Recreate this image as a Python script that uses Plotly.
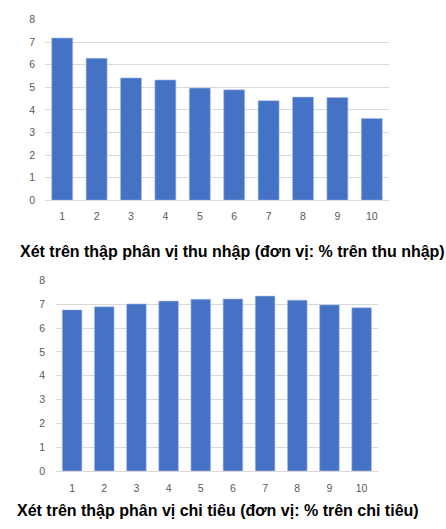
import plotly.graph_objects as go

deciles = [1, 2, 3, 4, 5, 6, 7, 8, 9, 10]
tick_labels = ["1", "2", "3", "4", "5", "6", "7", "8", "9", "10"]
income_share = [7.19, 6.29, 5.42, 5.33, 4.97, 4.89, 4.41, 4.57, 4.55, 3.62]
spending_share = [6.77, 6.90, 7.02, 7.14, 7.22, 7.23, 7.35, 7.18, 6.98, 6.86]
title_income = "Xét trên thập phân vị thu nhập (đơn vị: % trên thu nhập)"
title_spending = "Xét trên thập phân vị chi tiêu (đơn vị: % trên chi tiêu)"

W, H = 446, 529
BAR = "#4472C4"
GRID = "#D9D9D9"
TICKC = "#595959"
FONT = "Liberation Sans, Arial, sans-serif"

fig = go.Figure()
fig.add_trace(go.Bar(x=deciles, y=income_share, marker=dict(color=BAR, line=dict(color="#A9BDE6", width=0.6)),
                     xaxis="x", yaxis="y", showlegend=False))
fig.add_trace(go.Bar(x=deciles, y=spending_share, marker=dict(color=BAR, line=dict(color="#A9BDE6", width=0.6)),
                     xaxis="x2", yaxis="y2", showlegend=False))

def px_x(a, b):
    return [a / W, b / W]

def px_y(top, bottom):
    return [1 - bottom / H, 1 - top / H]

common_x = dict(tickmode="array", tickvals=deciles, ticktext=tick_labels, range=[0.5, 10.5],
                showgrid=False, zeroline=False, showline=True, linecolor=GRID, linewidth=1,
                ticks="", tickfont=dict(family=FONT, size=10.5, color=TICKC), fixedrange=True)
common_y = dict(range=[0, 8], dtick=1, showgrid=True, gridcolor=GRID, gridwidth=1, zeroline=False,
                showline=False, ticks="", tickfont=dict(family=FONT, size=10.5, color=TICKC), fixedrange=True)

fig.update_layout(
    width=W, height=H,
    margin=dict(l=0, r=0, t=0, b=0),
    paper_bgcolor="white", plot_bgcolor="white",
    bargap=0.39,
    xaxis=dict(common_x, domain=px_x(45, 389), anchor="y", ticklabelstandoff=6),
    yaxis=dict(common_y, domain=px_y(14, 198.7), anchor="x", ticklabelstandoff=9),
    xaxis2=dict(common_x, domain=px_x(56, 377.7), anchor="y2", ticklabelstandoff=7),
    yaxis2=dict(common_y, domain=px_y(281, 475.7), anchor="x2", ticklabelstandoff=10),
    annotations=[
        dict(text="<b>" + title_income + "</b>", x=232.5 / W, y=1 - 250.7 / H, xref="paper", yref="paper",
             xanchor="center", yanchor="middle", showarrow=False,
             font=dict(family=FONT, size=16, color="black")),
        dict(text="<b>" + title_spending + "</b>", x=218 / W, y=1 - 516.7 / H, xref="paper", yref="paper",
             xanchor="center", yanchor="middle", showarrow=False,
             font=dict(family=FONT, size=16, color="black")),
    ],
)

fig.write_html("out.html")
